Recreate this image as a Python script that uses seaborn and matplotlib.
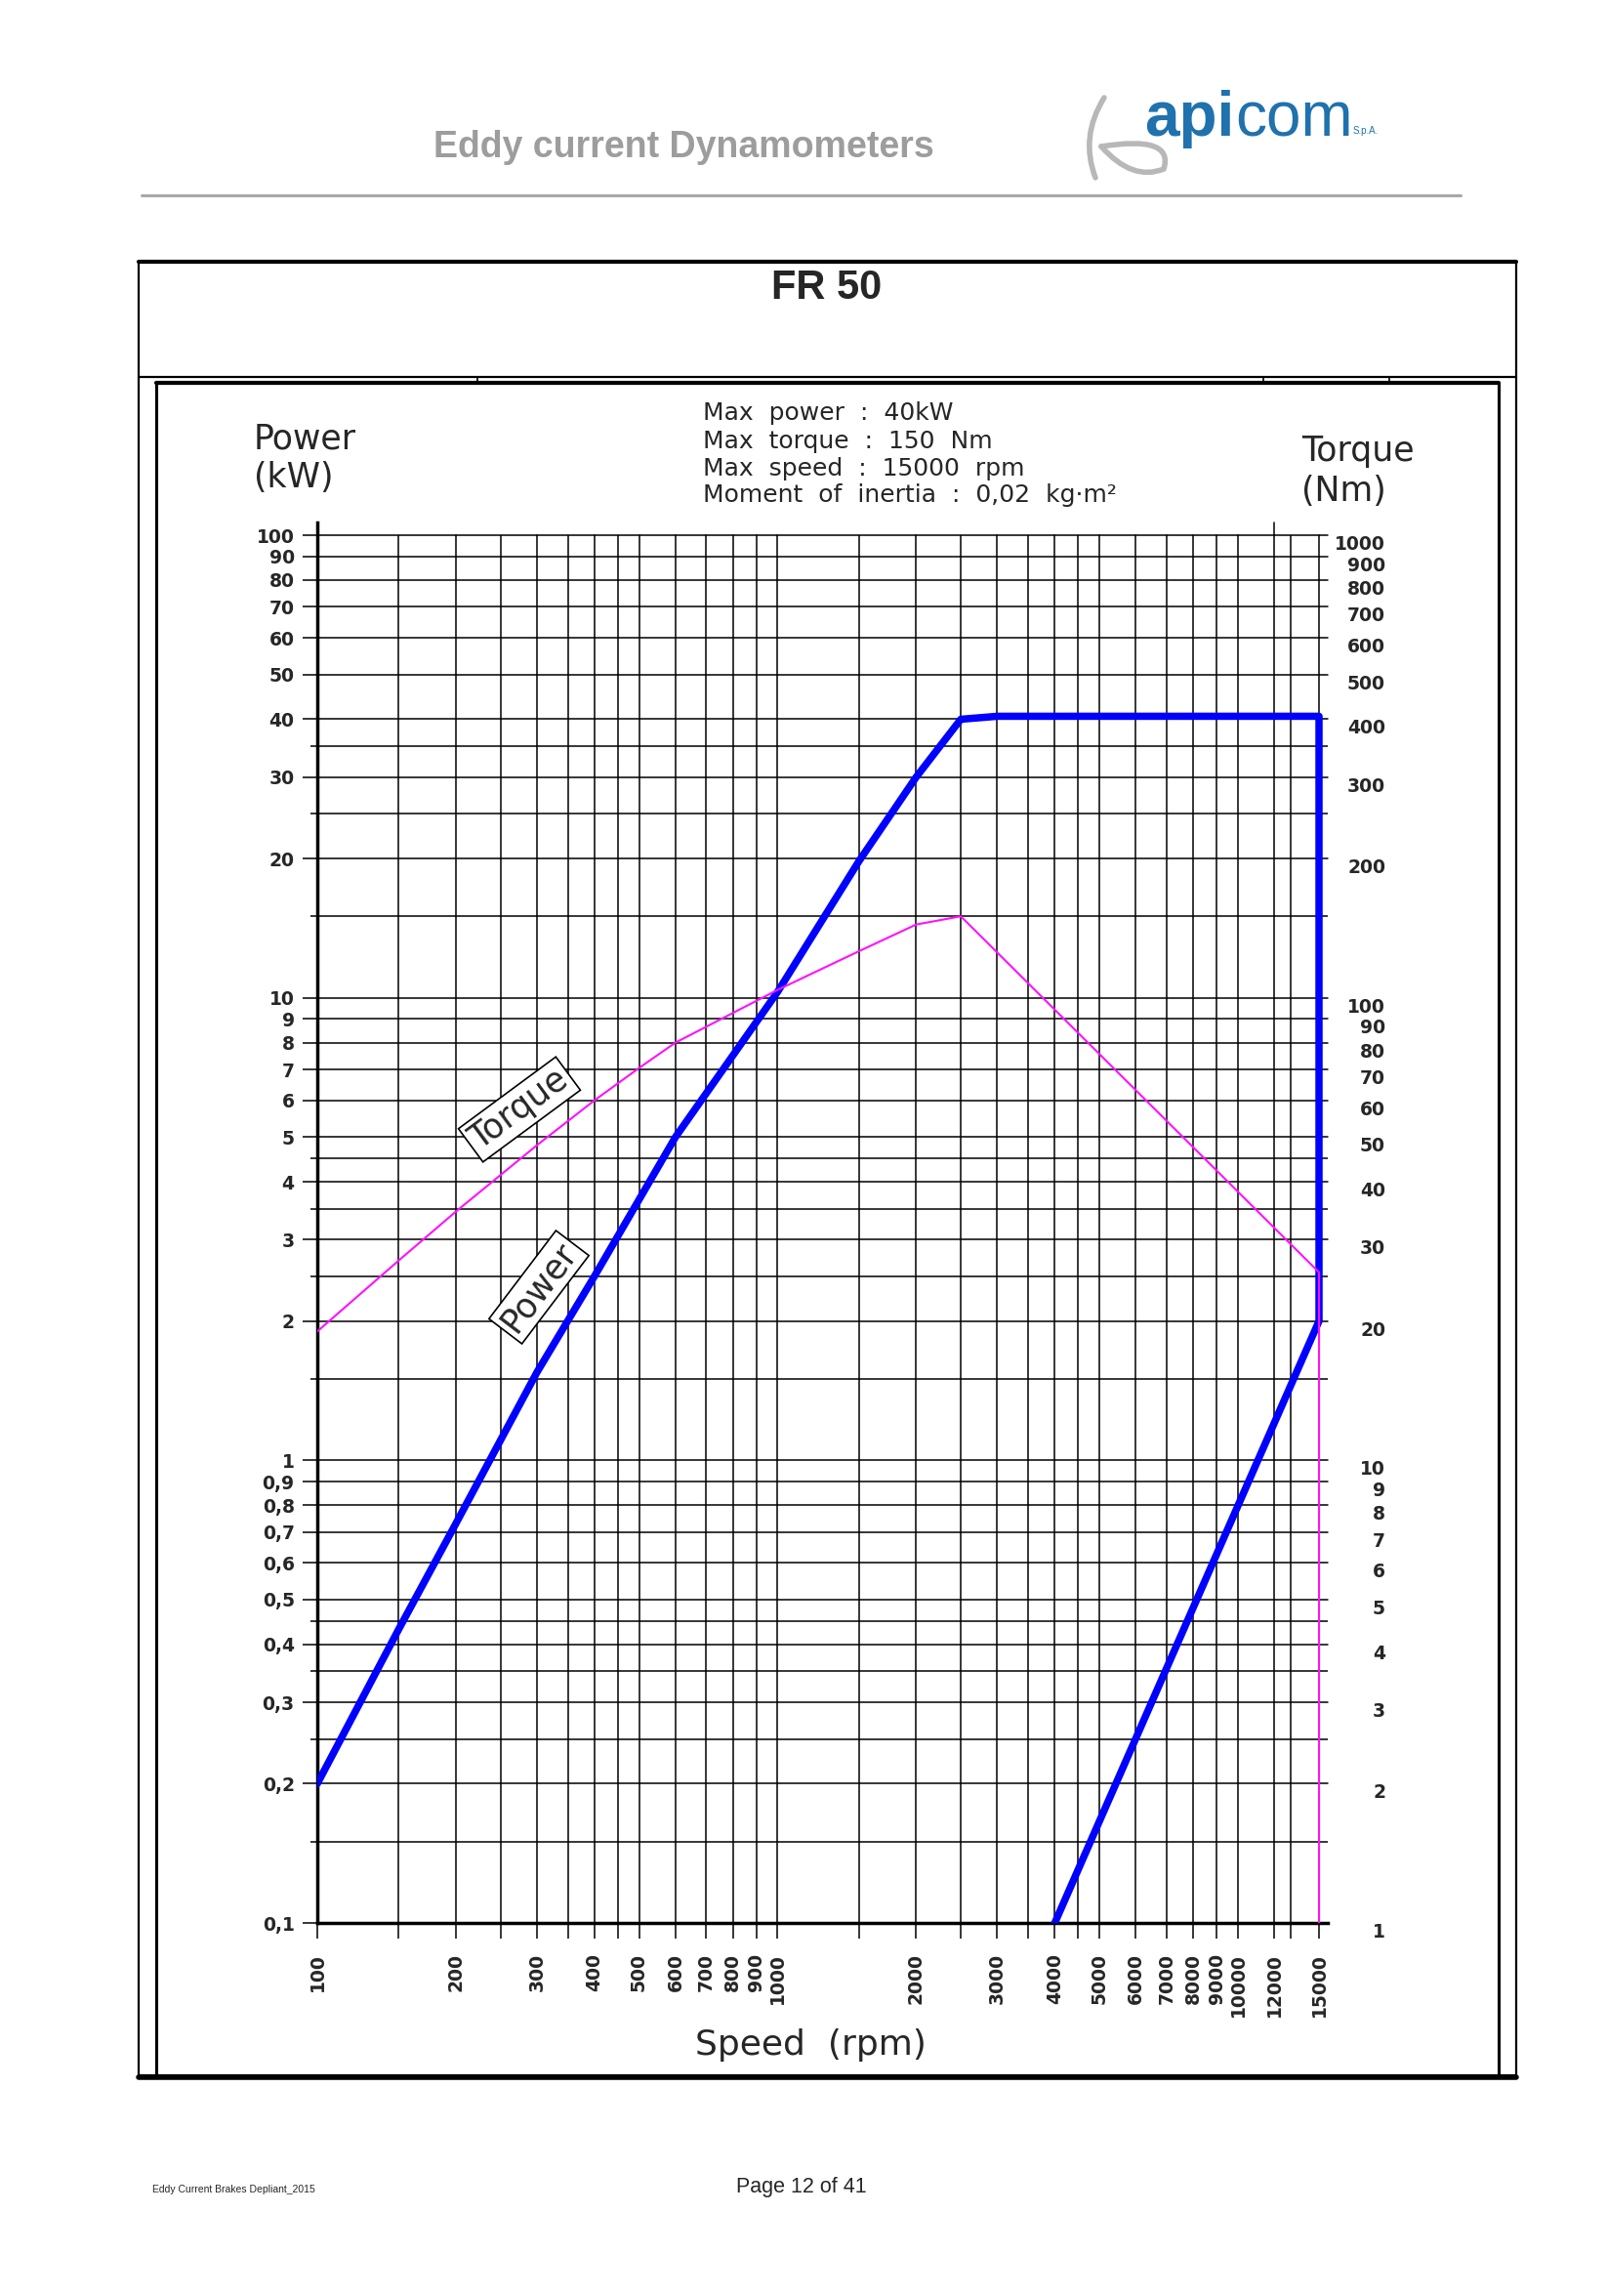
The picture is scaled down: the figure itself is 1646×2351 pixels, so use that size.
import pandas as pd
import matplotlib
matplotlib.use("Agg")
import matplotlib.pyplot as plt
import seaborn as sns
from matplotlib.ticker import NullFormatter, NullLocator
from matplotlib.patches import Rectangle, PathPatch
from matplotlib.path import Path

W, H = 1646, 2351

# curves
power_speed = [100, 150, 200, 300, 400, 600, 1000, 1500, 2000, 2500, 3000, 15000, 15000, 4000]
power_kw = [0.2, 0.43, 0.73, 1.55, 2.5, 5.0, 10.3, 19.7, 30, 40, 40.6, 40.6, 2.0, 0.1]

torque_speed = [100, 150, 200, 300, 400, 500, 600, 1000, 1500, 2000, 2500, 15000, 15000]
torque_nm = [19, 27, 34.5, 48, 60, 70.5, 80, 104, 126, 144, 150, 25.5, 1]

# axes ticks
speed_ticks = [100, 200, 300, 400, 500, 600, 700, 800, 900, 1000, 2000, 3000, 4000,
               5000, 6000, 7000, 8000, 9000, 10000, 12000, 15000]
speed_labels = [str(v) for v in speed_ticks]
speed_minor = [150, 250, 350, 450, 1500, 2500, 3500, 4500, 13000]

power_ticks = [0.1, 0.2, 0.3, 0.4, 0.5, 0.6, 0.7, 0.8, 0.9, 1, 2, 3, 4, 5, 6, 7, 8, 9,
               10, 20, 30, 40, 50, 60, 70, 80, 90, 100]
power_labels = ["0,1", "0,2", "0,3", "0,4", "0,5", "0,6", "0,7", "0,8", "0,9",
                "1", "2", "3", "4", "5", "6", "7", "8", "9",
                "10", "20", "30", "40", "50", "60", "70", "80", "90", "100"]
power_minor = [0.15, 0.25, 0.35, 0.45, 1.5, 2.5, 3.5, 4.5, 15, 25, 35]

torque_ticks = [1, 2, 3, 4, 5, 6, 7, 8, 9, 10, 20, 30, 40, 50, 60, 70, 80, 90,
                100, 200, 300, 400, 500, 600, 700, 800, 900, 1000]
torque_labels = [str(v) for v in torque_ticks]

info_lines = ["Max  power  :  40kW",
              "Max  torque  :  150  Nm",
              "Max  speed  :  15000  rpm",
              "Moment  of  inertia  :  0,02  kg\u00b7m\u00b2"]

df_power = pd.DataFrame({"speed": power_speed, "power": power_kw})
df_torque = pd.DataFrame({"speed": torque_speed, "torque": torque_nm})


def px(x, y):
    return x / W, 1 - y / H


sns.set_style("ticks")
plt.rcParams["font.family"] = ["DejaVu Sans"]

fig = plt.figure(figsize=(W / 100, H / 100), dpi=100)

# page decoration (header, frames)
bg = fig.add_axes([0, 0, 1, 1])
bg.set_xlim(0, W)
bg.set_ylim(H, 0)
bg.axis("off")
bg.plot([145, 1496], [200, 200], color="#a8a8a8", lw=2.2)
bg.add_patch(Rectangle((142, 268), 1411, 1857, fill=False, ec="black", lw=1.6))
bg.plot([142, 1553], [268, 268], color="black", lw=3)
bg.plot([142, 1553], [386, 386], color="black", lw=1.6)
bg.add_patch(Rectangle((160, 392), 1375, 1734, fill=False, ec="black", lw=2.2))
bg.plot([160, 1535], [392, 392], color="black", lw=3)
bg.plot([142, 1553], [2127, 2127], color="black", lw=4)
for xt in [489, 1294, 1423]:
    bg.plot([xt, xt], [386, 392], color="black", lw=1.2)

# apicom propeller mark
prop = Path([(1131, 100), (1106, 140), (1122, 182),
             (1128, 150), (1203, 138), (1192, 173), (1160, 186), (1128, 150)],
            [Path.MOVETO, Path.CURVE3, Path.CURVE3,
             Path.MOVETO, Path.CURVE3, Path.CURVE3, Path.CURVE3, Path.CURVE3])
bg.add_patch(PathPatch(prop, fill=False, ec="#b8b8b8", lw=4, capstyle="round"))

fig.text(*px(700, 151), "Eddy current Dynamometers", ha="center", va="center",
         fontsize=27, fontweight="bold", color="#9d9d9d", family="Liberation Sans")
fig.text(*px(1172, 139), "api", ha="left", va="baseline", fontsize=46,
         fontweight="bold", color="#1f72ad", family="Liberation Sans")
fig.text(*px(1265, 139), "com", ha="left", va="baseline", fontsize=46,
         color="#1f72ad", family="Liberation Sans")
fig.text(*px(1386, 137), "S.p.A.", ha="left", va="baseline", fontsize=7,
         color="#1f72ad", family="Liberation Sans")
fig.text(*px(847, 295), "FR 50", ha="center", va="center", fontsize=30,
         fontweight="bold", family="Liberation Sans")

# chart
ax = fig.add_axes([325 / W, 1 - 1969 / H, (1360 - 325) / W, (1969 - 548) / H])
ax.set_xscale("log")
ax.set_yscale("log")
sns.lineplot(data=df_power, x="speed", y="power", ax=ax, sort=False, estimator=None,
             color="#0000ff", lw=5.4, zorder=3)

ax2 = ax.twinx()
ax2.set_yscale("log")
sns.lineplot(data=df_torque, x="speed", y="torque", ax=ax2, sort=False, estimator=None,
             color="#ff11ff", lw=1.5)

ax.set_xlim(100, 15673)
ax.set_ylim(0.1, 100)
ax2.set_ylim(1, 1000)
for a in (ax, ax2):
    a.set_xlabel("")
    a.set_ylabel("")

ax.set_xticks(speed_ticks, labels=speed_labels)
ax.set_xticks(speed_minor, minor=True)
ax.xaxis.set_minor_formatter(NullFormatter())
ax.set_yticks(power_ticks, labels=power_labels)
ax.set_yticks(power_minor, minor=True)
ax.yaxis.set_minor_formatter(NullFormatter())

ax.set_axisbelow(True)
ax.grid(True, which="both", color="black", lw=1.1)
ax.tick_params(axis="x", which="both", length=11.5, width=1.1, direction="out",
               labelsize=13.5, labelrotation=90, pad=11, color="black")
ax.tick_params(axis="y", which="major", length=10.8, width=1.1, direction="out",
               labelsize=13.5, pad=6, color="black")
ax.tick_params(axis="y", which="minor", length=5, width=1.1, direction="out",
               color="black")
for lab in ax.get_xticklabels() + ax.get_yticklabels():
    lab.set_fontweight("bold")
for gl in ax.get_xgridlines() + ax.get_ygridlines():
    gl.set_clip_on(False)

for side in ["top", "right"]:
    ax.spines[side].set_visible(False)
for side in ["left", "bottom"]:
    ax.spines[side].set_linewidth(2.5)
    ax.spines[side].set_color("black")
ax.spines["left"].set_bounds(0.1, 106.5)
ax.axvline(12000, ymin=1, ymax=1.009, color="black", lw=1.1, clip_on=False)

ax2.set_yticks(torque_ticks, labels=torque_labels)
ax2.yaxis.set_minor_locator(NullLocator())
ax2.tick_params(axis="y", which="major", length=0, labelsize=13.5, pad=42.5)
for lab in ax2.get_yticklabels():
    lab.set_fontweight("bold")
    lab.set_ha("right")
    lab.set_va("top")
for s in ax2.spines.values():
    s.set_visible(False)
ax2.grid(False)

# axis titles and data box
fig.text(*px(260, 449), "Power", ha="left", va="center", fontsize=25)
fig.text(*px(260, 489), "(kW)", ha="left", va="center", fontsize=25)
fig.text(*px(1333, 462), "Torque", ha="left", va="center", fontsize=25)
fig.text(*px(1333, 503), "(Nm)", ha="left", va="center", fontsize=25)
fig.text(*px(830, 2094), "Speed  (rpm)", ha="center", va="center", fontsize=26)
for yy, line in zip([423, 452, 480, 507], info_lines):
    fig.text(*px(720, yy), line, ha="left", va="center", fontsize=18)

box = dict(boxstyle="square,pad=0.12", fc="white", ec="black", lw=1.2)
fig.text(*px(532, 1136), "Torque", rotation=36.4, rotation_mode="anchor",
         ha="center", va="center", fontsize=25, bbox=box, zorder=5)
fig.text(*px(552, 1318), "Power", rotation=52.8, rotation_mode="anchor",
         ha="center", va="center", fontsize=25, bbox=box, zorder=5)

# footer
fig.text(*px(156, 2242), "Eddy Current Brakes Depliant_2015", ha="left", va="center",
         fontsize=7.5, family="Liberation Sans")
fig.text(*px(821, 2239), "Page 12 of 41", ha="center", va="center",
         fontsize=15.5, family="Liberation Sans")

fig.savefig("out.png", dpi=100)
